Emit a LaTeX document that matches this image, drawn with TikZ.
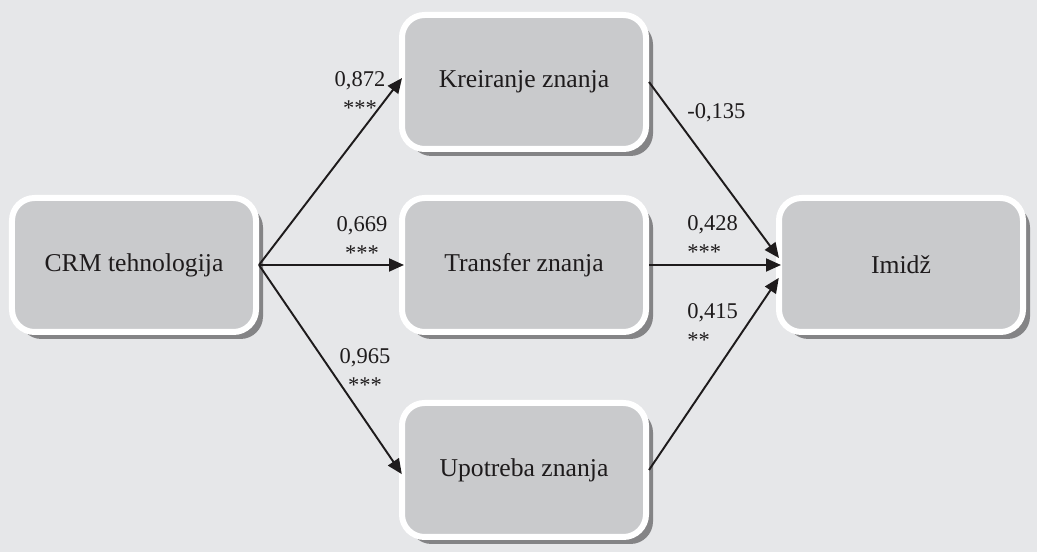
\documentclass[tikz,border=0pt]{standalone}
\usepackage{fontspec}
\setmainfont{Liberation Serif}
\usepackage{tikz}
\usetikzlibrary{arrows.meta, positioning, shadows}
\definecolor{bggrey}{RGB}{230, 231, 233}
\definecolor{boxgrey}{RGB}{201, 202, 204}
\definecolor{shadowgrey}{RGB}{132, 132, 134}
\definecolor{inkblack}{RGB}{30, 27, 28}

\begin{document}
\begin{tikzpicture}[
    box/.style={draw=white, fill=boxgrey, line width=0.12cm, rounded corners=0.45cm,
        minimum width=4.88cm, minimum height=2.68cm, inner sep=0pt,
        font=\fontsize{14.6}{17}\selectfont, text=inkblack,
        drop shadow={shadow xshift=0.14cm, shadow yshift=-0.14cm, fill=shadowgrey, opacity=1}},
    edge/.style={line width=1.1pt, draw=inkblack, -{Triangle[length=0.3cm, width=0.26cm]}, shorten >=-0.1cm},
    coef/.style={font=\fontsize{12.8}{16.5}\selectfont, text=inkblack, inner sep=0pt},
]

% Background
\fill[bggrey] (0,0) rectangle (20.74,-11.04);
\useasboundingbox (0,0) rectangle (20.74,-11.04);

% Boxes
\node[box] (crm) at (2.68,-5.30) {CRM tehnologija};
\node[box, right=2.8cm of crm] (tra) {Transfer znanja};
\node[box, above=0.86cm of tra] (kre) {Kreiranje znanja};
\node[box, below=1.3cm of tra] (upo) {Upotreba znanja};
\node[box, right=2.54cm of tra] (imi) {Imidž};

% Edges
\draw[edge] (crm.east) -- (kre.west);
\draw[edge] (crm.east) -- (tra.west);
\draw[edge] (crm.east) -- (upo.west);
\draw[edge] (kre.east) -- ([yshift=0.22cm]imi.west);
\draw[edge] (tra.east) -- (imi.west);
\draw[edge] (upo.east) -- ([yshift=-0.34cm]imi.west);

% Coefficients
\node[coef, align=center] (c1) at (7.20,-1.88) {0,872\\***};
\node[coef, align=center] (c2) at (7.24,-4.78) {0,669\\***};
\node[coef, align=center] (c3) at (7.30,-7.42) {0,965\\***};
\node[coef, anchor=west] (r1) at (13.74,-2.26) {-0,135};
\node[coef, anchor=west, align=left] (r2) at (13.74,-4.76) {0,428\\***};
\node[coef, anchor=west, align=left] (r3) at (13.74,-6.52) {0,415\\**};

\end{tikzpicture}
\end{document}
